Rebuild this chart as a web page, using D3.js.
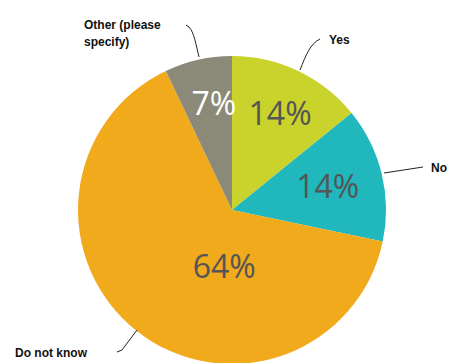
<!DOCTYPE html>
<html>
<head>
<meta charset="utf-8">
<style>
  body { margin: 0; background: #fff; }
  svg { display: block; }
</style>
</head>
<body>
<div id="chart"></div>
<script src="https://d3js.org/d3.v7.min.js"></script>
<script>

// data
const categories = ["Yes", "No", "Do not know", "Other (please specify)"];
const values = [14, 14, 64, 7];
const colors = ["#c9d32b", "#20b7bd", "#f2aa1d", "#8b8a79"];
const pctColors = ["#555555", "#555555", "#555555", "#ffffff"];

const width = 455, height = 363;
const cx = 232, cy = 210, radius = 154;

const svg = d3.select("#chart")
  .append("svg")
    .attr("width", width)
    .attr("height", height);

const g = svg.append("g")
  .attr("transform", "translate(" + cx + "," + cy + ")");

const pie = d3.pie().sort(null).value(d => d.value);
const arcs = pie(categories.map((c, i) => ({ name: c, value: values[i], i: i })));

const arc = d3.arc().innerRadius(0).outerRadius(radius);

g.selectAll("path.slice")
  .data(arcs)
  .enter()
  .append("path")
    .attr("class", "slice")
    .attr("d", arc)
    .attr("fill", d => colors[d.data.i]);

// percentage labels inside slices (radius fraction, position along the slice's angle)
const pctRadius = [0.70, 0.64, 0.37, 0.70];
const pctAlong = [0.52, 0.5, 0.37, 0.62];
g.selectAll("text.pct")
  .data(arcs)
  .enter()
  .append("text")
    .attr("class", "pct")
    .attr("transform", d => {
      const t = pctAlong[d.data.i];
      const a = d.startAngle + (d.endAngle - d.startAngle) * t;
      const r = radius * pctRadius[d.data.i];
      return "translate(" + (Math.sin(a) * r) + "," + (-Math.cos(a) * r) + ")";
    })
    .attr("text-anchor", "middle")
    .attr("dy", "0.36em")
    .attr("fill", d => pctColors[d.data.i])
    .style("font-family", "'Open Sans', 'Liberation Sans', sans-serif")
    .style("font-size", "32px")
    .text(d => Math.round(d.data.value) + "%");

// outside labels with leader lines
const labelFont = "'Liberation Sans', Arial, sans-serif";

function leader(path) {
  svg.append("path")
    .attr("d", path)
    .attr("fill", "none")
    .attr("stroke", "#222")
    .attr("stroke-width", 1);
}

function label(lines, x, y, anchor) {
  const t = svg.append("text")
    .attr("x", x)
    .attr("y", y)
    .attr("text-anchor", anchor || "start")
    .style("font-family", labelFont)
    .style("font-size", "12px")
    .style("font-weight", "bold")
    .attr("fill", "#111");
  lines.forEach((s, k) => {
    t.append("tspan").attr("x", x).attr("dy", k === 0 ? 0 : 17).text(s);
  });
}

// Yes
leader("M300,70 C306,55 310,44 320,39");
label(["Yes"], 329, 44);
// Other
leader("M199,57 C196,45 194,32 189,27 L186,25");
label(["Other (please", "specify)"], 84, 29);
// No
leader("M384,173 L423,167");
label(["No"], 431, 172);
// Do not know
leader("M137,330 L122,350 L117,352");
label(["Do not know"], 15, 357);

</script>
</body>
</html>
